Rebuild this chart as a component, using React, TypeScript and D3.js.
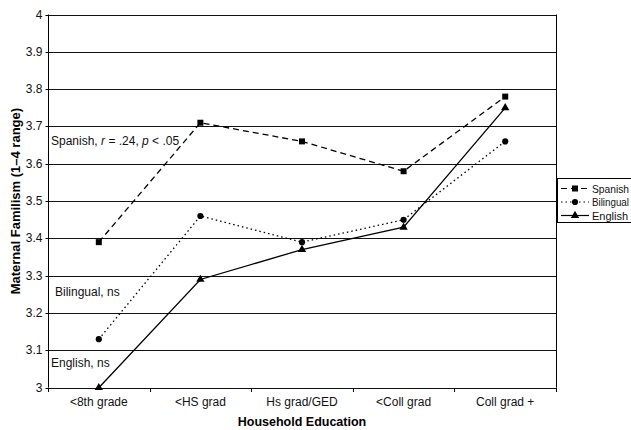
import { useEffect, useRef } from 'react';
import * as d3 from 'd3';

const categories = ['<8th grade', '<HS grad', 'Hs grad/GED', '<Coll grad', 'Coll grad +'];
const spanish = [3.39, 3.71, 3.66, 3.58, 3.78];
const bilingual = [3.13, 3.46, 3.39, 3.45, 3.66];
const english = [3.0, 3.29, 3.37, 3.43, 3.75];
const yTicks = [3, 3.1, 3.2, 3.3, 3.4, 3.5, 3.6, 3.7, 3.8, 3.9, 4];

const FONT = 'Arial, "Liberation Sans", Helvetica, sans-serif';

const App = () => {
  const svgRef = useRef<SVGSVGElement>(null);

  useEffect(() => {
    const svg = d3.select(svgRef.current);
    svg.selectAll('*').remove();

    const left = 48;
    const right = 556;
    const top = 14.5;
    const bottom = 387.7;

    const x = d3.scaleBand().domain(categories).range([left, right]);
    const y = d3.scaleLinear().domain([3, 4]).range([bottom, top]);
    const cx = (c: string) => (x(c) as number) + x.bandwidth() / 2;

    // Gridlines
    svg
      .append('g')
      .selectAll('line')
      .data(yTicks)
      .enter()
      .append('line')
      .attr('x1', left)
      .attr('x2', right)
      .attr('y1', d => Math.round(y(d)) + 0.5)
      .attr('y2', d => Math.round(y(d)) + 0.5)
      .attr('stroke', '#111')
      .attr('stroke-width', 1.2);

    // Y axis
    const yAxis = svg
      .append('g')
      .attr('transform', `translate(${left + 0.5},0)`)
      .call(
        d3
          .axisLeft(y)
          .tickValues(yTicks)
          .tickSize(3)
          .tickPadding(3)
          .tickFormat(d => d3.format('')(+d))
      );
    yAxis.select('.domain').attr('stroke', '#000').attr('d', `M0,${top}V${bottom}`);
    yAxis
      .selectAll('.tick')
      .attr('transform', (d: any) => `translate(0,${Math.round(y(d)) + 0.5})`);
    yAxis.selectAll('text').style('font-family', FONT).style('font-size', '12px').attr('fill', '#111');

    // Right border
    svg
      .append('line')
      .attr('x1', right + 0.5)
      .attr('x2', right + 0.5)
      .attr('y1', top)
      .attr('y2', bottom)
      .attr('stroke', '#000');

    // X axis
    const xAxis = svg
      .append('g')
      .attr('transform', `translate(0,${Math.round(bottom) + 0.5})`)
      .call(d3.axisBottom(x).tickSize(0).tickPadding(9));
    xAxis.select('.domain').remove();
    xAxis.selectAll('text').style('font-family', FONT).style('font-size', '12px').attr('fill', '#111');
    const edges = categories.map(c => x(c) as number).concat([right]);
    svg
      .append('g')
      .selectAll('line')
      .data(edges)
      .enter()
      .append('line')
      .attr('x1', d => Math.round(d) + 0.5)
      .attr('x2', d => Math.round(d) + 0.5)
      .attr('y1', Math.round(bottom))
      .attr('y2', Math.round(bottom) + 4)
      .attr('stroke', '#000');

    // Axis titles
    svg
      .append('text')
      .attr('x', (left + right) / 2)
      .attr('y', 426)
      .attr('text-anchor', 'middle')
      .style('font-family', FONT)
      .style('font-size', '12.5px')
      .style('font-weight', 'bold')
      .text('Household Education');

    svg
      .append('text')
      .attr('transform', `translate(20,${(top + bottom) / 2}) rotate(-90)`)
      .attr('text-anchor', 'middle')
      .style('font-family', FONT)
      .style('font-size', '13px')
      .style('font-weight', 'bold')
      .text('Maternal Familism (1–4 range)');

    // Series
    const series = [
      { name: 'Spanish', values: spanish, dash: '6,4', marker: 'square' },
      { name: 'Bilingual', values: bilingual, dash: '1.5,3', marker: 'circle' },
      { name: 'English', values: english, dash: null, marker: 'triangle' }
    ];

    const line = d3
      .line<number>()
      .x((d, i) => cx(categories[i]))
      .y(d => y(d));

    const symbolFor = (m: string) =>
      m === 'square'
        ? d3.symbol().type(d3.symbolSquare).size(36)
        : m === 'circle'
        ? d3.symbol().type(d3.symbolCircle).size(30)
        : d3.symbol().type(d3.symbolTriangle).size(30);

    series.forEach(s => {
      svg
        .append('path')
        .datum(s.values)
        .attr('d', line)
        .attr('fill', 'none')
        .attr('stroke', '#000')
        .attr('stroke-width', 1.3)
        .attr('stroke-dasharray', s.dash);

      svg
        .append('g')
        .selectAll('path')
        .data(s.values)
        .enter()
        .append('path')
        .attr('d', symbolFor(s.marker)() as string)
        .attr('transform', (d, i) => `translate(${cx(categories[i])},${y(d)})`)
        .attr('fill', '#000');
    });

    // Annotations
    const ann = svg.append('g').style('font-family', FONT).style('font-size', '12px').attr('fill', '#111');
    const sp = ann.append('text').attr('x', 51).attr('y', y(3.66) + 4);
    sp.append('tspan').text('Spanish, ');
    sp.append('tspan').style('font-style', 'italic').text('r');
    sp.append('tspan').text(' = .24, ');
    sp.append('tspan').style('font-style', 'italic').text('p');
    sp.append('tspan').text(' < .05');
    ann.append('text').attr('x', 55).attr('y', y(3.257) + 4).text('Bilingual, ns');
    ann.append('text').attr('x', 51).attr('y', y(3.067) + 4).text('English, ns');

    // Legend
    const lg = svg.append('g');
    lg.append('rect')
      .attr('x', 557.5)
      .attr('y', 178.5)
      .attr('width', 80)
      .attr('height', 44)
      .attr('fill', '#fff')
      .attr('stroke', '#000');
    const legendY = [188.5, 202, 215.5];
    series.forEach((s, i) => {
      lg.append('line')
        .attr('x1', 561)
        .attr('x2', 589)
        .attr('y1', legendY[i])
        .attr('y2', legendY[i])
        .attr('stroke', '#000')
        .attr('stroke-width', 1.2)
        .attr('stroke-dasharray', s.dash);
      lg.append('path')
        .attr('d', symbolFor(s.marker)() as string)
        .attr('transform', `translate(575,${legendY[i]})`)
        .attr('fill', '#000');
      const t = lg
        .append('text')
        .attr('x', 592)
        .attr('y', legendY[i] + 4)
        .style('font-family', FONT)
        .style('font-size', '11px')
        .attr('fill', '#111')
        .text(s.name);
      // squeeze to fit like the original's narrow legend font
      const w = (t.node() as SVGTextElement).getComputedTextLength();
      const maxW = 37;
      if (w > maxW) t.attr('textLength', maxW).attr('lengthAdjust', 'spacingAndGlyphs');
    });
  }, []);

  return (
    <svg
      ref={svgRef}
      width={631}
      height={430}
      style={{ position: 'absolute', left: 0, top: 0, background: '#fff' }}
    ></svg>
  );
};

export default App;
